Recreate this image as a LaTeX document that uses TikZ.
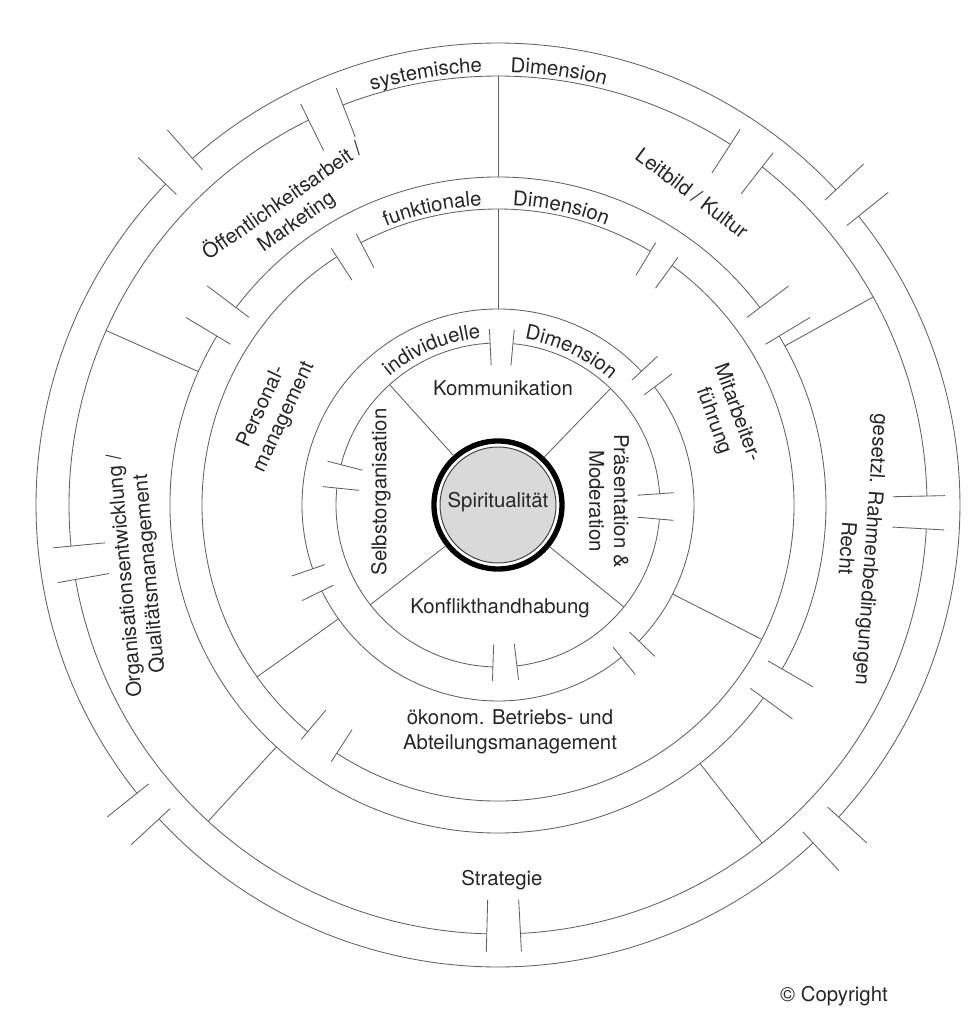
\documentclass[tikz,border=0pt]{standalone}
\usepackage{fontspec}
\setmainfont{TeX Gyre Heros}
\usetikzlibrary{decorations.text}

\newcommand{\lblfont}{\fontsize{14.5pt}{17.5pt}\selectfont}
\newcommand{\ringarc}[5]{%
  \draw[ring] (#2:#1) arc[start angle=#2, end angle=#3, radius=#1];
  \draw[ring] (#2:#4) -- (#2:#5);
  \draw[ring] (#3:#4) -- (#3:#5);
}
\newcommand{\bandtext}[4]{%
  \path[decorate, decoration={text along path, text={|\lblfont|#4},
    text align=center, text color=black!85}]
    (#2:#1) arc[start angle=#2, end angle=#3, radius=#1];
}

\begin{document}
\begin{tikzpicture}[x=0.25mm, y=0.25mm,
    ring/.style={draw=black!62, line width=0.6pt},
    lbl/.style={font=\lblfont, text=black!85, inner sep=0pt, align=center}]
  \useasboundingbox (-498,-519) rectangle (478,505);

  \draw[draw=black!75, line width=0.7pt, fill=black!15] (0,0) circle[radius=58];
  \draw[line width=3.8pt] (0,0) circle[radius=64];

  \foreach \a/\b in {92.8/165.6, 174/268.2, 276.7/355, 4/84.7}
    {\ringarc{162}{\a}{\b}{140}{176}}
  \foreach \a/\b in {43/199, 206/309, 316/397}
    {\ringarc{196}{\a}{\b}{183}{218}}
  \foreach \a/\b in {59/117.6, 123/230, 237/414}
    {\ringarc{296}{\a}{\b}{268}{306}}
  \foreach \a/\b in {37/143, 149/324, 330/391}
    {\ringarc{328}{\a}{\b}{312}{364}}
  \foreach \a/\b in {57.2/111.2, 116.2/185.5, 190/268.5, 273/356.8, 1.2/52}
    {\ringarc{429}{\a}{\b}{395}{447}}
  \foreach \a/\b in {43/131.4, 136/218.6, 222.8/313, 317.5/398.7}
    {\ringarc{462}{\a}{\b}{447}{500}}

  \foreach \a in {132,46,-39,218}
    \draw[ring] (\a:66) -- (\a:162);
  \foreach \a in {90,215.5,-27}
    \draw[ring] (\a:196) -- (\a:296);
  \foreach \a in {90,156,227.5,-52,29}
    \draw[ring] (\a:328) -- (\a:429);

  \bandtext{168}{135}{91}{individuelle}
  \bandtext{168}{86}{43}{Dimension}
  \bandtext{300}{115}{90}{funktionale}
  \bandtext{300}{90}{66}{Dimension}
  \bandtext{433}{112}{87}{systemische}
  \bandtext{433}{94}{70}{Dimension}

  \node[lbl] (spirit) at (0,3) {Spiritualität};
  \node[lbl] (komm) at (5,117) {Kommunikation};
  \node[lbl, rotate=-90] (praes) at (111,4) {Präsentation \&\\Moderation};
  \node[lbl] (konflikt) at (2,-103) {Konflikthandhabung};
  \node[lbl, rotate=90] (selbst) at (-117,13) {Selbstorganisation};
  \node[lbl, rotate=65] (personal) at (-225,93) {Personal-\\management};
  \node[lbl, rotate=-70] (mitarb) at (227,88) {Mitarbeiter-\\führung};
  \node[lbl] (oekonom) at (12,-227) {ökonom. Betriebs- und\\Abteilungsmanagement};
  \node[lbl, rotate=35] (oeffentl) at (-209,294) {Öffentlichkeitsarbeit /\\Marketing};
  \node[lbl, rotate=95] (orga) at (-360,-70) {Organisationsentwicklung /\\Qualitätsmanagement};
  \node[lbl, rotate=-37] (leitbild) at (194,312) {Leitbild / Kultur};
  \node[lbl, rotate=-94] (gesetz) at (362,-44) {gesetzl. Rahmenbedingungen\\Recht};
  \node[lbl] (strategie) at (4,-375) {Strategie};
  \node[lbl] (copy) at (336,-491) {© Copyright};
\end{tikzpicture}
\end{document}
